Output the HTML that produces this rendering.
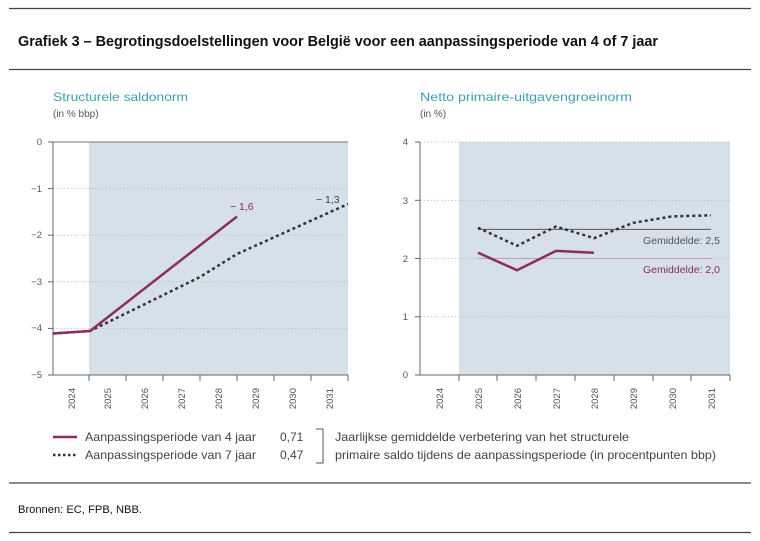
<!DOCTYPE html>
<html><head><meta charset="utf-8"><style>html,body{margin:0;padding:0;background:#fff}svg{display:block}</style></head>
<body>
<svg width="760" height="541" viewBox="0 0 760 541" xmlns="http://www.w3.org/2000/svg" font-family="Liberation Sans, sans-serif">
<line x1="9" y1="8.5" x2="751" y2="8.5" stroke="#444" stroke-width="1.2"/>
<line x1="9" y1="69.5" x2="751" y2="69.5" stroke="#444" stroke-width="1.2"/>
<text x="18" y="46" font-size="14.5" font-weight="bold" fill="#111" textLength="640" lengthAdjust="spacingAndGlyphs">Grafiek 3 – Begrotingsdoelstellingen voor België voor een aanpassingsperiode van 4 of 7 jaar</text>

<!-- Left chart -->
<text x="53" y="101" font-size="12" fill="#3aa0b4" textLength="135" lengthAdjust="spacingAndGlyphs">Structurele saldonorm</text>
<text x="53" y="117" font-size="10" fill="#555">(in % bbp)</text>
<rect x="89" y="142" width="259" height="233" fill="#d5e0e8"/>
<g stroke="#bbb" stroke-width="0.8" stroke-dasharray="1.5,2">
<line x1="53" y1="188.6" x2="348" y2="188.6"/><line x1="53" y1="235.2" x2="348" y2="235.2"/><line x1="53" y1="281.8" x2="348" y2="281.8"/><line x1="53" y1="328.4" x2="348" y2="328.4"/>
</g>
<line x1="53" y1="142" x2="348" y2="142" stroke="#777" stroke-width="1"/>
<line x1="53" y1="142" x2="53" y2="375" stroke="#666" stroke-width="1"/>
<line x1="48" y1="375" x2="348" y2="375" stroke="#666" stroke-width="1"/>
<g stroke="#666" stroke-width="1">
<line x1="48" y1="142" x2="53" y2="142"/><line x1="48" y1="188.6" x2="53" y2="188.6"/><line x1="48" y1="235.2" x2="53" y2="235.2"/><line x1="48" y1="281.8" x2="53" y2="281.8"/><line x1="48" y1="328.4" x2="53" y2="328.4"/>
<line x1="89" y1="375" x2="89" y2="381"/><line x1="126" y1="375" x2="126" y2="381"/><line x1="163" y1="375" x2="163" y2="381"/><line x1="200" y1="375" x2="200" y2="381"/><line x1="237" y1="375" x2="237" y2="381"/><line x1="274" y1="375" x2="274" y2="381"/><line x1="311" y1="375" x2="311" y2="381"/><line x1="348" y1="375" x2="348" y2="381"/>
</g>
<g font-size="9.5" fill="#555" text-anchor="end">
<text x="42" y="145">0</text><text x="42" y="192">−1</text><text x="42" y="238">−2</text><text x="42" y="285">−3</text><text x="42" y="331">−4</text><text x="42" y="378">−5</text>
</g>
<g font-size="9.5" fill="#555" text-anchor="end">
<text transform="translate(75,388) rotate(-90)">2024</text>
<text transform="translate(111,388) rotate(-90)">2025</text>
<text transform="translate(148,388) rotate(-90)">2026</text>
<text transform="translate(185,388) rotate(-90)">2027</text>
<text transform="translate(222,388) rotate(-90)">2028</text>
<text transform="translate(259,388) rotate(-90)">2029</text>
<text transform="translate(296,388) rotate(-90)">2030</text>
<text transform="translate(333,388) rotate(-90)">2031</text>
</g>
<polyline points="53,333.5 90,331 200,277 237,254 348,204" fill="none" stroke="#333" stroke-width="2.5" stroke-dasharray="3,3"/>
<polyline points="53,333.5 90,331 237,216.5" fill="none" stroke="#8b2d63" stroke-width="2.5"/>
<text x="230" y="210" font-size="10.5" fill="#8b2d63">− 1,6</text>
<text x="316" y="203" font-size="10.5" fill="#444">− 1,3</text>

<!-- Right chart -->
<text x="420" y="101" font-size="12" fill="#3aa0b4" textLength="212" lengthAdjust="spacingAndGlyphs">Netto primaire-uitgavengroeinorm</text>
<text x="420" y="117" font-size="10" fill="#555">(in %)</text>
<rect x="459" y="142" width="271" height="233" fill="#d5e0e8"/>
<g stroke="#bbb" stroke-width="0.8" stroke-dasharray="1.5,2">
<line x1="420" y1="142" x2="730" y2="142"/><line x1="420" y1="200.3" x2="730" y2="200.3"/><line x1="420" y1="258.5" x2="730" y2="258.5"/><line x1="420" y1="316.8" x2="730" y2="316.8"/>
</g>
<line x1="420" y1="142" x2="420" y2="375" stroke="#666" stroke-width="1"/>
<line x1="415" y1="375" x2="730" y2="375" stroke="#666" stroke-width="1"/>
<g stroke="#666" stroke-width="1">
<line x1="415" y1="142" x2="420" y2="142"/><line x1="415" y1="200.3" x2="420" y2="200.3"/><line x1="415" y1="258.5" x2="420" y2="258.5"/><line x1="415" y1="316.8" x2="420" y2="316.8"/>
<line x1="459" y1="375" x2="459" y2="381"/><line x1="497" y1="375" x2="497" y2="381"/><line x1="536" y1="375" x2="536" y2="381"/><line x1="575" y1="375" x2="575" y2="381"/><line x1="614" y1="375" x2="614" y2="381"/><line x1="653" y1="375" x2="653" y2="381"/><line x1="691" y1="375" x2="691" y2="381"/><line x1="730" y1="375" x2="730" y2="381"/>
</g>
<g font-size="9.5" fill="#555" text-anchor="end">
<text x="408" y="145">4</text><text x="408" y="204">3</text><text x="408" y="262">2</text><text x="408" y="320">1</text><text x="408" y="378">0</text>
</g>
<g font-size="9.5" fill="#555" text-anchor="end">
<text transform="translate(443,388) rotate(-90)">2024</text>
<text transform="translate(482,388) rotate(-90)">2025</text>
<text transform="translate(521,388) rotate(-90)">2026</text>
<text transform="translate(560,388) rotate(-90)">2027</text>
<text transform="translate(598,388) rotate(-90)">2028</text>
<text transform="translate(637,388) rotate(-90)">2029</text>
<text transform="translate(676,388) rotate(-90)">2030</text>
<text transform="translate(715,388) rotate(-90)">2031</text>
</g>
<line x1="478" y1="229.4" x2="711" y2="229.4" stroke="#555" stroke-width="1"/>
<line x1="478" y1="258.5" x2="711" y2="258.5" stroke="#c99bb8" stroke-width="1"/>
<polyline points="478,227.7 517,245.8 556,226.5 594,238.2 633,222.9 672,216.4 711,215.3" fill="none" stroke="#333" stroke-width="2.5" stroke-dasharray="3,3"/>
<polyline points="478,252.7 517,270.2 556,250.9 594,252.7" fill="none" stroke="#8b2d63" stroke-width="2.5"/>
<text x="720" y="244" font-size="10.5" fill="#555" text-anchor="end">Gemiddelde: 2,5</text>
<text x="720" y="273" font-size="10.5" fill="#8b2d63" text-anchor="end">Gemiddelde: 2,0</text>

<!-- Legend -->
<line x1="53" y1="437" x2="77" y2="437" stroke="#8b2d63" stroke-width="2.5"/>
<line x1="53" y1="455" x2="77" y2="455" stroke="#333" stroke-width="2.5" stroke-dasharray="2.5,2.5"/>
<g font-size="12" fill="#444">
<text x="85" y="441" textLength="171" lengthAdjust="spacingAndGlyphs">Aanpassingsperiode van 4 jaar</text>
<text x="85" y="459" textLength="171" lengthAdjust="spacingAndGlyphs">Aanpassingsperiode van 7 jaar</text>
<text x="280" y="441">0,71</text>
<text x="280" y="459">0,47</text>
<text x="335" y="441" textLength="294" lengthAdjust="spacingAndGlyphs">Jaarlijkse gemiddelde verbetering van het structurele</text>
<text x="335" y="459" textLength="381" lengthAdjust="spacingAndGlyphs">primaire saldo tijdens de aanpassingsperiode (in procentpunten bbp)</text>
</g>
<polyline points="316,429 323,429 323,463 316,463" fill="none" stroke="#555" stroke-width="1"/>

<line x1="9" y1="483" x2="751" y2="483" stroke="#444" stroke-width="1.2"/>
<text x="18" y="513" font-size="11" fill="#111" textLength="124" lengthAdjust="spacingAndGlyphs">Bronnen: EC, FPB, NBB.</text>
<line x1="9" y1="532.5" x2="751" y2="532.5" stroke="#444" stroke-width="1.2"/>
</svg>
</body></html>
